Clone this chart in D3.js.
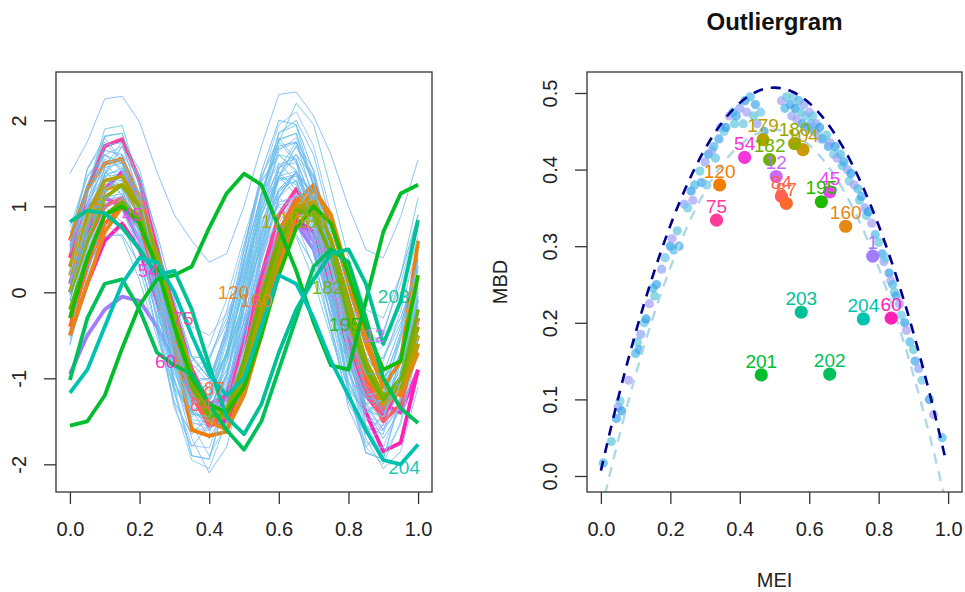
<!DOCTYPE html>
<html><head><meta charset="utf-8">
<script src="https://cdn.jsdelivr.net/npm/d3@7"></script>
<style>body{margin:0;background:#fff}svg{display:block}</style>
</head><body>
<svg id="c" width="965" height="592"></svg>
<script>
// ---------------- DATA ----------------
const gridX = [0,0.05,0.1,0.15,0.2,0.25,0.3,0.35,0.4,0.45,0.5,0.55,0.6,0.65,0.7,0.75,0.8,0.85,0.9,0.95,1];

// non-outlying curves (left panel)
const bgCurves = [
[0.15,0.9,1.3,1.35,0.9,0.15,-0.6,-1.15,-1.2,-0.7,0.05,0.8,1.3,1.35,0.9,0.2,-0.6,-1.1,-1.2,-0.7,0.1],
[0.42,1.1,1.42,1.2,0.55,-0.3,-1.05,-1.4,-1.2,-0.55,0.3,1.05,1.4,1.2,0.55,-0.28,-1.05,-1.4,-1.2,-0.55,0.28],
[-0.47,0.43,1.13,1.4,1.1,0.35,-0.55,-1.3,-1.6,-1.3,-0.55,0.35,1.1,1.4,1.1,0.35,-0.55,-1.3,-1.6,-1.3,-0.55],
[0.08,0.96,1.52,1.55,0.99,0.08,-0.88,-1.52,-1.55,-0.96,-0.08,0.88,1.49,1.55,0.99,0.08,-0.88,-1.49,-1.55,-0.96,0.0],
[0.16,0.76,1.0,0.82,0.28,-0.44,-1.1,-1.4,-1.22,-0.68,0.04,0.7,1.0,0.82,0.28,-0.44,-1.1,-1.4,-1.22,-0.68,0.04],
[-0.1,0.62,1.18,1.4,1.16,0.56,-0.16,-0.76,-1.0,-0.76,-0.16,0.56,1.16,1.4,1.16,0.56,-0.16,-0.76,-1.0,-0.76,-0.16],
[0.19,1.18,1.81,1.85,1.22,0.19,-0.89,-1.61,-1.65,-0.98,0.01,1.09,1.77,1.85,1.22,0.19,-0.89,-1.57,-1.65,-0.98,0.1],
[0.4,0.9,1.1,0.95,0.5,-0.1,-0.65,-0.9,-0.75,-0.3,0.3,0.85,1.1,0.95,0.5,-0.1,-0.65,-0.9,-0.75,-0.3,0.3],
[-0.35,0.49,1.15,1.4,1.12,0.42,-0.42,-1.12,-1.4,-1.12,-0.42,0.42,1.12,1.4,1.12,0.42,-0.42,-1.12,-1.4,-1.12,-0.42],
[-0.18,0.59,1.08,1.11,0.62,-0.18,-1.02,-1.58,-1.61,-1.09,-0.32,0.52,1.05,1.11,0.62,-0.18,-1.02,-1.55,-1.61,-1.09,-0.25],
[0.63,1.43,1.75,1.51,0.79,-0.17,-1.05,-1.45,-1.21,-0.49,0.47,1.35,1.75,1.51,0.79,-0.17,-1.05,-1.45,-1.21,-0.49,0.47],
[-0.43,0.6,1.39,1.7,1.36,0.51,-0.51,-1.36,-1.7,-1.36,-0.51,0.51,1.36,1.7,1.36,0.51,-0.51,-1.36,-1.7,-1.36,-0.51],
[0.36,0.96,1.35,1.37,0.98,0.36,-0.31,-0.75,-0.77,-0.36,0.25,0.91,1.32,1.37,0.98,0.36,-0.31,-0.72,-0.77,-0.36,0.3],
[0.03,0.85,1.38,1.41,0.88,0.03,-0.88,-1.48,-1.51,-0.95,-0.13,0.78,1.35,1.41,0.88,0.03,-0.88,-1.45,-1.51,-0.95,-0.05],
[0.69,1.34,1.6,1.4,0.82,0.04,-0.68,-1.0,-0.8,-0.22,0.56,1.28,1.6,1.4,0.82,0.04,-0.68,-1.0,-0.8,-0.22,0.56],
[-0.62,0.15,0.77,1.0,0.74,0.09,-0.69,-1.34,-1.6,-1.34,-0.69,0.09,0.74,1.0,0.74,0.09,-0.69,-1.34,-1.6,-1.34,-0.69],
[0.1,1.2,1.9,1.94,1.24,0.1,-1.1,-1.9,-1.94,-1.2,-0.1,1.1,1.86,1.94,1.24,0.1,-1.1,-1.86,-1.94,-1.2,0.0],
[0.3,1.05,1.35,1.13,0.45,-0.45,-1.28,-1.65,-1.43,-0.75,0.15,0.98,1.35,1.13,0.45,-0.45,-1.28,-1.65,-1.43,-0.75,0.15],
[-0.25,0.71,1.46,1.75,1.43,0.63,-0.33,-1.13,-1.45,-1.13,-0.33,0.63,1.43,1.75,1.43,0.63,-0.33,-1.13,-1.45,-1.13,-0.33],
[-0.04,0.62,1.04,1.06,0.64,-0.04,-0.76,-1.24,-1.26,-0.82,-0.16,0.56,1.02,1.06,0.64,-0.04,-0.76,-1.22,-1.26,-0.82,-0.1],
[0.54,1.44,1.8,1.53,0.72,-0.36,-1.35,-1.8,-1.53,-0.72,0.36,1.35,1.8,1.53,0.72,-0.36,-1.35,-1.8,-1.53,-0.72,0.36],
[-0.23,0.44,0.95,1.15,0.93,0.38,-0.28,-0.83,-1.05,-0.83,-0.28,0.38,0.93,1.15,0.93,0.38,-0.28,-0.83,-1.05,-0.83,-0.28],
[0.29,1.22,1.82,1.85,1.25,0.29,-0.74,-1.42,-1.45,-0.82,0.12,1.14,1.78,1.85,1.25,0.29,-0.74,-1.38,-1.45,-0.82,0.2],
[-0.25,0.3,0.65,0.67,0.32,-0.25,-0.85,-1.25,-1.27,-0.9,-0.35,0.25,0.63,0.67,0.32,-0.25,-0.85,-1.23,-1.27,-0.9,-0.3],
[0.52,1.22,1.5,1.29,0.66,-0.18,-0.95,-1.3,-1.09,-0.46,0.38,1.15,1.5,1.29,0.66,-0.18,-0.95,-1.3,-1.09,-0.46,0.38],
[-0.55,0.53,1.38,1.7,1.34,0.44,-0.64,-1.54,-1.9,-1.54,-0.64,0.44,1.34,1.7,1.34,0.44,-0.64,-1.54,-1.9,-1.54,-0.64],
[0.32,1.03,1.49,1.51,1.06,0.32,-0.47,-0.99,-1.01,-0.53,0.19,0.97,1.46,1.51,1.06,0.32,-0.47,-0.96,-1.01,-0.53,0.25],
[-0.28,0.55,1.08,1.11,0.58,-0.28,-1.18,-1.78,-1.81,-1.25,-0.43,0.48,1.05,1.11,0.58,-0.28,-1.18,-1.75,-1.81,-1.25,-0.35],
[0.03,0.58,0.8,0.64,0.14,-0.52,-1.13,-1.4,-1.24,-0.74,-0.08,0.53,0.8,0.64,0.14,-0.52,-1.13,-1.4,-1.24,-0.74,-0.08],
[-0.03,0.76,1.37,1.6,1.34,0.69,-0.09,-0.74,-1.0,-0.74,-0.09,0.69,1.34,1.6,1.34,0.69,-0.09,-0.74,-1.0,-0.74,-0.09],
[0.0,1.04,1.71,1.74,1.08,0.0,-1.15,-1.9,-1.94,-1.24,-0.2,0.95,1.67,1.74,1.08,0.0,-1.15,-1.87,-1.94,-1.24,-0.1],
[0.76,1.36,1.6,1.42,0.88,0.16,-0.5,-0.8,-0.62,-0.08,0.64,1.3,1.6,1.42,0.88,0.16,-0.5,-0.8,-0.62,-0.08,0.64],
[1.38,1.75,2.25,2.28,1.98,1.4,0.9,0.6,0.35,0.45,1.0,1.7,2.3,2.33,2.05,1.6,1.0,0.5,0.4,0.88,1.54],
[0.3,1.0,1.5,1.55,1.05,0.2,-0.6,-1.1,-1.1,-0.5,0.4,1.3,1.95,2.1,1.7,0.9,0.1,-0.4,-0.45,0.1,0.9],
[-0.2,0.6,1.2,1.35,0.95,0.25,-0.5,-1.0,-1.15,-0.7,0.1,1.0,1.75,2.2,1.95,1.2,0.4,-0.2,-0.3,0.2,1.1],
[0.5,1.2,1.6,1.5,0.95,0.1,-0.7,-1.2,-1.05,-0.4,0.5,1.4,2.0,1.95,1.4,0.6,-0.2,-0.6,-0.5,0.2,0.9],
[0.0,0.8,1.35,1.45,1.0,0.2,-0.65,-1.2,-1.25,-0.7,0.2,1.15,1.85,2.0,1.6,0.8,0.0,-0.55,-0.6,-0.05,0.75],
[-0.3,0.5,1.2,1.3,0.7,-0.3,-1.3,-1.95,-2.05,-1.5,-0.6,0.4,1.1,1.3,0.8,-0.1,-1.1,-1.8,-2.0,-1.5,-0.5],
[-0.6,0.2,0.9,1.1,0.7,-0.1,-1.0,-1.7,-2.1,-1.8,-1.0,0.0,0.8,1.15,0.9,0.1,-0.9,-1.7,-2.05,-1.85,-1.1],
[0.6,1.0,1.3,1.3,1.0,0.5,-0.05,-0.4,-0.5,-0.25,0.2,0.7,1.2,1.3,1.05,0.5,-0.1,-0.5,-0.55,-0.3,0.3],
[0.25,0.95,1.3,1.2,0.7,-0.1,-0.85,-1.3,-1.25,-0.7,0.1,0.9,1.35,1.25,0.75,-0.05,-0.85,-1.3,-1.25,-0.7,0.15],
[-0.1,0.7,1.25,1.35,0.95,0.2,-0.6,-1.2,-1.35,-0.95,-0.2,0.6,1.2,1.4,1.0,0.25,-0.55,-1.15,-1.35,-0.95,-0.2],
[0.1,0.85,1.45,1.5,1.0,0.15,-0.75,-1.4,-1.5,-1.0,-0.15,0.75,1.45,1.6,1.15,0.3,-0.6,-1.3,-1.45,-0.95,-0.05],
[0.45,1.15,1.55,1.45,0.9,0.05,-0.8,-1.3,-1.2,-0.6,0.25,1.05,1.6,1.55,1.0,0.15,-0.7,-1.2,-1.15,-0.55,0.3],
[-0.3,0.45,1.0,1.2,0.9,0.25,-0.55,-1.15,-1.4,-1.1,-0.4,0.45,1.1,1.4,1.1,0.4,-0.45,-1.1,-1.4,-1.1,-0.35],
[0.2,1.0,1.6,1.7,1.15,0.2,-0.8,-1.5,-1.6,-1.05,-0.1,0.9,1.65,1.8,1.3,0.35,-0.7,-1.45,-1.6,-1.05,0.05],
[0.0,0.65,1.1,1.15,0.7,-0.05,-0.85,-1.4,-1.45,-0.95,-0.15,0.65,1.2,1.3,0.85,0.05,-0.8,-1.35,-1.45,-0.95,-0.1],
[0.55,1.25,1.65,1.6,1.05,0.25,-0.55,-1.05,-1.0,-0.45,0.35,1.15,1.7,1.75,1.25,0.45,-0.4,-0.95,-0.95,-0.4,0.4]
];

// outlying curves
const outIds = [1,12,45,54,60,75,84,87,104,120,160,179,180,182,195,201,202,203,204];
const outColors = ["#A07CFF","#C86BFA","#E844F0","#F535DA","#FF20B8","#FF3C9C","#FF5C63","#FF6A2A","#CC9A06","#F27D00","#E68613","#B8A000","#93AA00","#6DB200","#1DBB00","#00BD2B","#00C05A","#00C194","#00C2B0"];
const outCurves = [
[-0.95,-0.5,-0.2,-0.05,-0.1,-0.4,-0.8,-1.2,-1.5,-1.2,-0.5,0.2,0.7,0.8,0.5,-0.1,-0.7,-1.2,-1.4,-1.0,-0.3],
[0.3,0.8,1.1,1.0,0.6,0.0,-0.6,-1.1,-1.4,-1.2,-0.6,0.1,0.6,0.85,0.6,0.0,-0.6,-1.1,-1.3,-1.0,-0.4],
[0.6,1.0,1.1,1.0,0.75,0.2,-0.4,-0.9,-1.3,-1.25,-0.8,-0.1,0.5,0.8,0.7,0.2,-0.5,-1.1,-1.4,-1.1,-0.5],
[0.1,0.7,1.2,1.4,1.1,0.5,-0.2,-0.9,-1.4,-1.5,-1.0,-0.3,0.4,0.9,1.0,0.6,-0.1,-0.8,-1.3,-1.4,-0.9],
[-0.5,0.1,0.6,0.8,0.5,-0.1,-0.7,-1.2,-1.55,-1.5,-1.0,-0.2,0.5,0.85,0.7,0.1,-0.7,-1.4,-1.85,-1.75,-0.9],
[0.4,1.2,1.7,1.78,1.3,0.5,-0.3,-0.9,-1.3,-1.2,-0.6,0.2,0.9,1.2,0.9,0.2,-0.6,-1.2,-1.45,-1.1,-0.3],
[0.0,0.6,1.0,1.1,0.8,0.1,-0.6,-1.2,-1.55,-1.4,-0.8,0.0,0.7,1.1,1.0,0.4,-0.4,-1.1,-1.5,-1.3,-0.6],
[-0.4,0.3,0.8,1.0,0.8,0.2,-0.5,-1.1,-1.5,-1.45,-0.9,-0.1,0.6,1.0,0.95,0.4,-0.4,-1.0,-1.35,-1.1,-0.3],
[0.2,0.8,1.2,1.25,0.9,0.3,-0.4,-1.0,-1.45,-1.4,-0.9,-0.1,0.6,1.05,1.1,0.6,-0.2,-0.9,-1.3,-1.15,-0.5],
[0.6,1.2,1.5,1.55,1.1,0.4,-0.6,-1.6,-1.67,-1.62,-1.1,-0.3,0.5,1.05,1.25,0.8,0.1,-0.6,-1.1,-0.8,0.6],
[-0.5,0.1,0.7,1.0,0.9,0.4,-0.3,-1.0,-1.5,-1.6,-1.2,-0.5,0.3,0.9,1.2,0.9,0.2,-0.5,-1.1,-1.2,-0.7],
[0.3,0.9,1.3,1.35,1.0,0.35,-0.35,-1.0,-1.4,-1.35,-0.9,-0.15,0.55,1.0,1.05,0.6,-0.1,-0.8,-1.2,-1.1,-0.6],
[0.0,0.6,1.1,1.25,1.0,0.45,-0.25,-0.95,-1.4,-1.45,-1.0,-0.3,0.45,0.95,1.0,0.6,-0.1,-0.8,-1.2,-1.1,-0.4],
[-0.2,0.4,0.9,1.05,0.85,0.3,-0.4,-1.1,-1.45,-1.4,-0.8,-0.05,0.6,0.95,0.9,0.45,-0.3,-0.9,-1.25,-1.0,-0.2],
[-0.3,0.4,0.9,1.0,0.8,0.3,-0.4,-1.0,-1.3,-1.4,-1.1,-0.5,0.2,0.75,1.0,0.8,0.2,-0.4,-0.9,-0.8,0.2],
[-1.55,-1.5,-1.2,-0.65,-0.15,0.15,0.2,0.3,0.75,1.15,1.38,1.25,0.75,0.25,-0.35,-0.85,-0.9,-0.1,0.7,1.15,1.25],
[-1.02,-0.3,0.1,0.15,-0.2,-0.7,-0.85,-0.95,-1.3,-1.6,-1.83,-1.5,-0.9,-0.3,0.3,0.5,0.35,-0.3,-1.0,-1.35,-1.52],
[0.82,0.95,0.92,0.75,0.5,0.2,0.25,-0.2,-0.85,-1.45,-1.65,-1.3,-0.7,-0.2,0.15,0.45,0.5,0.1,-0.6,-0.1,0.84],
[-1.17,-0.9,-0.4,0.1,0.4,0.35,0.0,-0.5,-0.95,-1.2,-1.0,-0.4,0.2,0.1,-0.3,-0.8,-1.2,-1.6,-1.95,-2.0,-1.77]
];

// curve labels on the left panel
const leftLabText = ["45","54","75","60","84","87","120","160","179","104","180","182","195","12","203","204"];
const leftLabX = [0.18,0.225,0.325,0.275,0.375,0.415,0.47,0.535,0.595,0.645,0.695,0.74,0.79,0.875,0.93,0.96];
const leftLabY = [0.9,0.25,-0.3,-0.8,-1.3,-1.12,0.0,-0.1,0.82,0.86,0.82,0.06,-0.38,-0.5,-0.05,-2.04];
const leftLabCol = ["#E844F0","#F535DA","#FF3C9C","#FF20B8","#FF5C63","#FF6A2A","#F27D00","#E68613","#B8A000","#CC9A06","#93AA00","#6DB200","#1DBB00","#C86BFA","#00C194","#00C2B0"];

// outliergram: non-outlying points
const meiNon = [0.007,0.03,0.045,0.05,0.055,0.06,0.08,0.1,0.105,0.11,0.115,0.125,0.13,0.14,0.15,0.155,0.16,0.175,0.185,0.2,0.205,0.21,0.22,0.225,0.24,0.25,0.26,0.265,0.27,0.285,0.29,0.3,0.305,0.31,0.32,0.325,0.33,0.34,0.345,0.355,0.36,0.37,0.38,0.385,0.39,0.4,
0.41,0.415,0.42,0.43,0.44,0.445,0.45,0.46,0.47,0.52,0.53,0.535,0.545,0.55,0.555,0.56,0.565,0.57,0.575,0.58,0.585,0.59,0.595,0.6,0.605,0.61,0.615,0.62,0.625,0.63,0.635,
0.64,0.65,0.655,0.66,0.67,0.675,0.68,0.69,0.695,0.7,0.71,0.715,0.72,0.73,0.74,0.745,0.75,0.76,0.765,0.77,0.78,0.79,0.8,0.81,0.815,0.82,0.83,0.835,0.84,0.845,0.85,0.86,0.865,0.875,0.88,0.89,0.9,0.905,0.915,0.925,0.946,0.958,0.983];
const mbdNon = [0.017,0.045,0.075,0.09,0.098,0.085,0.125,0.16,0.175,0.165,0.185,0.2,0.205,0.225,0.245,0.235,0.25,0.27,0.285,0.3,0.31,0.295,0.32,0.3,0.355,0.35,0.372,0.36,0.38,0.398,0.383,0.41,0.38,0.42,0.425,0.43,0.415,0.44,0.455,0.45,0.455,0.47,0.475,0.46,0.47,0.48,
0.46,0.49,0.475,0.495,0.47,0.485,0.46,0.475,0.45,0.49,0.48,0.495,0.485,0.47,0.495,0.48,0.465,0.49,0.475,0.46,0.485,0.47,0.455,0.475,0.46,0.47,0.45,0.46,0.445,0.455,0.44,
0.44,0.445,0.43,0.435,0.42,0.43,0.415,0.42,0.405,0.41,0.4,0.385,0.395,0.38,0.375,0.36,0.365,0.35,0.34,0.345,0.33,0.315,0.305,0.29,0.28,0.285,0.265,0.255,0.25,0.24,0.235,0.225,0.21,0.2,0.19,0.175,0.165,0.15,0.14,0.125,0.1,0.08,0.05];

// outliergram: outlying points (same order as outIds)
const meiOut = [0.783,0.505,0.659,0.414,0.836,0.333,0.52,0.534,0.582,0.342,0.705,0.467,0.558,0.486,0.635,0.462,0.659,0.577,0.756];
const mbdOut = [0.287,0.391,0.371,0.416,0.206,0.334,0.365,0.356,0.426,0.380,0.326,0.439,0.434,0.413,0.358,0.132,0.133,0.214,0.205];

// parabolas
const parX = [0,0.05,0.1,0.15,0.2,0.25,0.3,0.35,0.4,0.45,0.5,0.55,0.6,0.65,0.7,0.75,0.8,0.85,0.9,0.95,0.99];
const parDark = [0.007,0.102,0.187,0.262,0.327,0.382,0.427,0.462,0.487,0.502,0.507,0.502,0.487,0.462,0.427,0.382,0.327,0.262,0.187,0.102,0.027];
const parLX = [0.012,0.05,0.1,0.15,0.2,0.25,0.3,0.35,0.4,0.45,0.5,0.55,0.6,0.65,0.7,0.75,0.8,0.85,0.9,0.95,0.988];
const parLight = [-0.024,0.047,0.132,0.207,0.272,0.327,0.372,0.407,0.432,0.447,0.452,0.447,0.432,0.407,0.372,0.327,0.272,0.207,0.132,0.047,-0.024];

const xTicks = [0,0.2,0.4,0.6,0.8,1.0];
const yTicksL = [-2,-1,0,1,2];
const yTicksR = [0,0.1,0.2,0.3,0.4,0.5];

// ---------------- DRAW ----------------
const FONT = 'Arial, "Liberation Sans", Helvetica, sans-serif';
const svg = d3.select("#c").style("font-family", FONT);
const bgLinePal = ["#6BBDF0","#74CBE6","#7DB6F8","#93BCFA","#66C8DC","#5DB4EE"];
const bgPtPal = ["#4CB8E8","#5CC8DC","#3EA6EC","#8FA2F8","#6AC6E6","#2E9FE6","#A6A0F5"];

const PL = {x0:56, x1:432, y0:72, y1:492};
const PR = {x0:587, x1:962, y0:72, y1:492};
const xL = d3.scaleLinear().domain([-0.04,1.04]).range([PL.x0,PL.x1]);
const yL = d3.scaleLinear().domain([-2.322,2.562]).range([PL.y1,PL.y0]);
const xR = d3.scaleLinear().domain([-0.04,1.04]).range([PR.x0,PR.x1]);
const yR = d3.scaleLinear().domain([-0.0209,0.5274]).range([PR.y1,PR.y0]);

const defs = svg.append("defs");
defs.append("clipPath").attr("id","clipL").append("rect")
  .attr("x",PL.x0).attr("y",PL.y0).attr("width",PL.x1-PL.x0).attr("height",PL.y1-PL.y0);
defs.append("clipPath").attr("id","clipR").append("rect")
  .attr("x",PR.x0).attr("y",PR.y0).attr("width",PR.x1-PR.x0).attr("height",PR.y1-PR.y0);

// ---- left panel curves (drawn in id order) ----
const items = [];
bgCurves.forEach((c,i) => items.push({id: 2 + i*4, vals: c, color: bgLinePal[i % bgLinePal.length], w: 1, op: 0.85}));
outCurves.forEach((c,i) => items.push({id: outIds[i], vals: c, color: outColors[i], w: 3.8, op: 1}));
items.sort((a,b) => a.id - b.id);

const lineL = d3.line().x((d,i) => xL(gridX[i])).y(d => yL(d)).curve(d3.curveLinear);
const gL = svg.append("g").attr("clip-path","url(#clipL)");
gL.selectAll("path.curve").data(items).join("path")
  .attr("class","curve")
  .attr("d", d => lineL(d.vals))
  .attr("fill","none")
  .attr("stroke", d => d.color)
  .attr("stroke-width", d => d.w)
  .attr("stroke-opacity", d => d.op)
  .attr("stroke-linejoin","round");

gL.selectAll("text.lab").data(leftLabText).join("text")
  .attr("class","lab")
  .attr("x",(d,i) => xL(leftLabX[i]))
  .attr("y",(d,i) => yL(leftLabY[i]))
  .attr("text-anchor","middle")
  .attr("dominant-baseline","central")
  .attr("font-size",19)
  .attr("fill",(d,i) => leftLabCol[i])
  .attr("fill-opacity",0.9)
  .text(d => d);

// ---- right panel ----
const gR = svg.append("g").attr("clip-path","url(#clipR)");
gR.selectAll("circle.non").data(meiNon).join("circle")
  .attr("class","non")
  .attr("cx", d => xR(d))
  .attr("cy", (d,i) => yR(mbdNon[i]))
  .attr("r", 4.6)
  .attr("fill", (d,i) => bgPtPal[i % bgPtPal.length])
  .attr("fill-opacity", 0.7);

const lineP = d3.line().curve(d3.curveMonotoneX);
gR.append("path")
  .attr("d", lineP(parLX.map((x,i) => [xR(x), yR(parLight[i])])))
  .attr("fill","none").attr("stroke","#ADD8E6").attr("stroke-width",2.4)
  .attr("stroke-dasharray","10,8");
gR.append("path")
  .attr("d", lineP(parX.map((x,i) => [xR(x), yR(parDark[i])])))
  .attr("fill","none").attr("stroke","#00008B").attr("stroke-width",2.6)
  .attr("stroke-dasharray","10,8");

gR.selectAll("circle.out").data(meiOut).join("circle")
  .attr("class","out")
  .attr("cx", d => xR(d))
  .attr("cy", (d,i) => yR(mbdOut[i]))
  .attr("r", 6.6)
  .attr("fill", (d,i) => outColors[i]);

gR.selectAll("text.olab").data(outIds).join("text")
  .attr("class","olab")
  .attr("x", (d,i) => xR(meiOut[i]))
  .attr("y", (d,i) => yR(mbdOut[i] + 0.018))
  .attr("text-anchor","middle")
  .attr("dominant-baseline","central")
  .attr("font-size",19)
  .attr("fill",(d,i) => outColors[i])
  .text(d => d);

// ---- axes ----
function styleAxis(g){
  g.select(".domain").remove();
  g.selectAll("line").attr("stroke","#333").attr("stroke-width",1.3);
  g.selectAll("text").attr("fill","#222").attr("font-size",20).style("font-family",FONT);
}
function drawAxes(P, xs, ys, yTicks, yFmt){
  const gx = svg.append("g").attr("transform",`translate(0,${P.y1})`)
    .call(d3.axisBottom(xs).tickValues(xTicks).tickSize(12).tickPadding(18).tickFormat(d3.format(".1f")));
  styleAxis(gx);
  const gy = svg.append("g").attr("transform",`translate(${P.x0},0)`)
    .call(d3.axisLeft(ys).tickValues(yTicks).tickSize(12).tickFormat(yFmt));
  styleAxis(gy);
  gy.selectAll("text").attr("transform","rotate(-90)").attr("x",0).attr("y",-30)
    .attr("dy",0).attr("text-anchor","middle");
  svg.append("rect").attr("x",P.x0).attr("y",P.y0).attr("width",P.x1-P.x0).attr("height",P.y1-P.y0)
    .attr("fill","none").attr("stroke","#333").attr("stroke-width",1.3);
}
drawAxes(PL, xL, yL, yTicksL, d => String(d));
drawAxes(PR, xR, yR, yTicksR, d3.format(".1f"));

// ---- titles ----
svg.append("text").attr("x",(PR.x0+PR.x1)/2).attr("y",30).attr("text-anchor","middle")
  .attr("font-size",24).attr("font-weight","bold").attr("fill","#111").text("Outliergram");
svg.append("text").attr("x",(PR.x0+PR.x1)/2).attr("y",587).attr("text-anchor","middle")
  .attr("font-size",20).attr("fill","#222").text("MEI");
svg.append("text").attr("transform",`translate(507,${(PR.y0+PR.y1)/2}) rotate(-90)`)
  .attr("text-anchor","middle").attr("font-size",20).attr("fill","#222").text("MBD");
</script>
</body></html>
